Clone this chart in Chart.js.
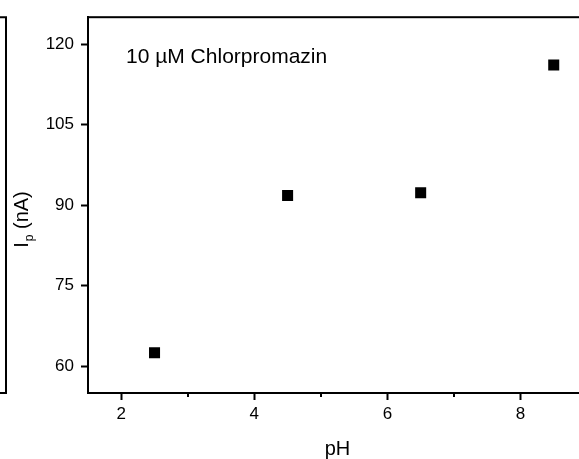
<!DOCTYPE html>
<html>
<head>
<meta charset="utf-8">
<script src="https://cdn.jsdelivr.net/npm/chart.js@4"></script>
<style>
    html, body { margin: 0; padding: 0; background: #fff; overflow: hidden; }
    #wrap { width: 600px; height: 459px; }
</style>
</head>
<body>
<div id="wrap"><canvas id="phChart" width="600" height="459"></canvas></div>
<script>
// pH dependence of peak current, 10 µM chlorpromazine
const phValues = [2.5, 4.5, 6.5, 8.5];
const peakCurrent = [62.5, 91.8, 92.3, 116.1];
const xTickValues = [2, 4, 6, 8];
const xMinorTicks = [3, 5, 7, 9];
const yTickValues = [60, 75, 90, 105, 120];

const FONT = '"Liberation Sans", Arial, Helvetica, sans-serif';

// frame, minor ticks, y title with subscript, inset label, edge of the neighbouring panel
const decor = {
    id: 'decor',
    afterDraw(chart) {
        const ctx = chart.ctx;
        const a = chart.chartArea;
        const xs = chart.scales.x;
        ctx.save();
        ctx.strokeStyle = '#000';
        ctx.lineWidth = 2;
        ctx.strokeRect(a.left, a.top, a.right - a.left, a.bottom - a.top);

        ctx.beginPath();
        xMinorTicks.forEach(v => {
            const px = Math.round(xs.getPixelForValue(v));
            ctx.moveTo(px, a.bottom);
            ctx.lineTo(px, a.bottom + 4);
        });
        // right border of the panel on the left
        ctx.moveTo(0, a.top);
        ctx.lineTo(6, a.top);
        ctx.lineTo(6, a.bottom);
        ctx.lineTo(0, a.bottom);
        ctx.stroke();

        ctx.fillStyle = '#000';
        ctx.textBaseline = 'alphabetic';
        ctx.font = '21px ' + FONT;
        ctx.fillText('10 µM Chlorpromazin', 126, 63);

        // I_p (nA)
        ctx.translate(28, 220);
        ctx.rotate(-Math.PI / 2);
        ctx.font = '20px ' + FONT;
        const wI = ctx.measureText('I').width;
        const rest = ' (nA)';
        ctx.font = '12px ' + FONT;
        const wp = ctx.measureText('p').width;
        ctx.font = '20px ' + FONT;
        const wRest = ctx.measureText(rest).width;
        let x0 = -(wI + wp + wRest) / 2;
        ctx.fillText('I', x0, 0);
        ctx.font = '12px ' + FONT;
        ctx.fillText('p', x0 + wI + 1, 5);
        ctx.font = '20px ' + FONT;
        ctx.fillText(rest, x0 + wI + wp + 1, 0);
        ctx.restore();
    }
};

const ctx = document.getElementById('phChart').getContext('2d');
new Chart(ctx, {
    type: 'scatter',
    data: {
        datasets: [{
            data: phValues.map((v, i) => ({ x: v, y: peakCurrent[i] })),
            pointStyle: 'rect',
            pointRadius: 7.8,
            pointBorderWidth: 0,
            backgroundColor: '#000',
            borderColor: '#000'
        }]
    },
    options: {
        responsive: false,
        animation: false,
        layout: { padding: { left: 0, top: 15, right: 13, bottom: 0 } },
        plugins: {
            legend: { display: false },
            tooltip: { enabled: false }
        },
        scales: {
            x: {
                type: 'linear',
                min: 1.5,
                max: 9,
                afterBuildTicks: s => { s.ticks = xTickValues.map(v => ({ value: v })); },
                afterFit: s => { s.height = 66; },
                grid: { drawOnChartArea: false, tickLength: 7, tickWidth: 2, tickColor: '#000' },
                border: { width: 2, color: '#000' },
                ticks: { color: '#000', padding: 4, font: { family: FONT, size: 17 } },
                title: {
                    display: true,
                    text: 'pH',
                    color: '#000',
                    padding: { top: 0, bottom: -2 },
                    font: { family: FONT, size: 20 }
                }
            },
            y: {
                type: 'linear',
                min: 55,
                max: 125,
                afterBuildTicks: s => { s.ticks = yTickValues.map(v => ({ value: v })); },
                afterFit: s => { s.width = 88; },
                grid: { drawOnChartArea: false, tickLength: 7, tickWidth: 2, tickColor: '#000' },
                border: { width: 2, color: '#000' },
                ticks: { color: '#000', padding: 7, font: { family: FONT, size: 17 } }
            }
        }
    },
    plugins: [decor]
});
</script>
</body>
</html>
